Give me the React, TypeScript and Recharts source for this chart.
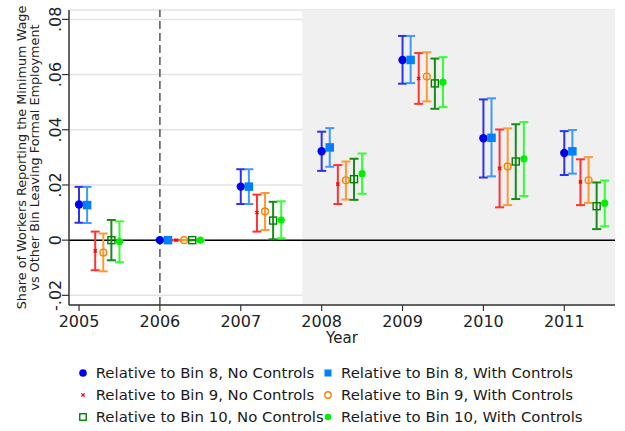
import React from 'react';
import {
  ComposedChart, Scatter, XAxis, YAxis, CartesianGrid, ReferenceLine, ReferenceArea, ErrorBar,
} from 'recharts';

const YEARS = [2005, 2006, 2007, 2008, 2009, 2010, 2011];
const X_TICKS = [2005, 2006, 2007, 2008, 2009, 2010, 2011];
const Y_TICKS = [-0.02, 0, 0.02, 0.04, 0.06, 0.08];
const Y_TICK_LABELS = ['-.02', '0', '.02', '.04', '.06', '.08'];

const B8NC_EST = [0.0129, 0, 0.0194, 0.0322, 0.0653, 0.0369, 0.0316];
const B8NC_LO = [0.0063, 0, 0.0131, 0.0251, 0.0567, 0.0227, 0.0236];
const B8NC_HI = [0.0193, 0, 0.0257, 0.0393, 0.074, 0.051, 0.0395];

const B8WC_EST = [0.0127, 0, 0.0194, 0.0336, 0.0653, 0.0371, 0.0322];
const B8WC_LO = [0.0062, 0, 0.0131, 0.0266, 0.0569, 0.0231, 0.0241];
const B8WC_HI = [0.0193, 0, 0.0257, 0.0406, 0.074, 0.0514, 0.0399];

const B9NC_EST = [-0.0039, 0, 0.01, 0.0203, 0.0586, 0.026, 0.0211];
const B9NC_LO = [-0.0109, 0, 0.0031, 0.0131, 0.0494, 0.0119, 0.0127];
const B9NC_HI = [0.0031, 0, 0.0165, 0.0272, 0.0678, 0.0401, 0.0293];

const B9WC_EST = [-0.0045, 0, 0.0104, 0.0217, 0.0593, 0.0267, 0.0217];
const B9WC_LO = [-0.0113, 0, 0.0037, 0.0147, 0.0503, 0.0127, 0.0135];
const B9WC_HI = [0.0024, 0, 0.0171, 0.0285, 0.0681, 0.0405, 0.0301];

const B10NC_EST = [0.0, 0, 0.0071, 0.0221, 0.0568, 0.0285, 0.0123];
const B10NC_LO = [-0.0073, 0, 0.0003, 0.0146, 0.0476, 0.0149, 0.004];
const B10NC_HI = [0.0073, 0, 0.0139, 0.0295, 0.0658, 0.042, 0.0209];

const B10WC_EST = [-0.0005, 0, 0.0073, 0.0241, 0.0573, 0.0295, 0.0134];
const B10WC_LO = [-0.008, 0, 0.0007, 0.0168, 0.0482, 0.016, 0.005];
const B10WC_HI = [0.0068, 0, 0.0141, 0.0314, 0.0663, 0.0428, 0.0216];

const FONT = '"DejaVu Sans", sans-serif';
const X_DOMAIN = [2004.876, 2011.627];
const Y_DOMAIN = [-0.0235, 0.0834];
const SHADE_START = 2007.76;

type Kind = 'dot' | 'square' | 'x' | 'ring' | 'box' | 'smalldot';

const SERIES: {
  name: string; est: number[]; lo: number[]; hi: number[]; offset: number;
  color: string; barColor: string; kind: Kind;
}[] = [
  { name: 'Relative to Bin 8, No Controls', est: B8NC_EST, lo: B8NC_LO, hi: B8NC_HI, offset: 0, color: '#0000f0', barColor: '#3030f0', kind: 'dot' },
  { name: 'Relative to Bin 8, With Controls', est: B8WC_EST, lo: B8WC_LO, hi: B8WC_HI, offset: 0.1, color: '#0080ff', barColor: '#3d99ff', kind: 'square' },
  { name: 'Relative to Bin 9, No Controls', est: B9NC_EST, lo: B9NC_LO, hi: B9NC_HI, offset: 0.2, color: '#ff0000', barColor: '#ff3333', kind: 'x' },
  { name: 'Relative to Bin 9, With Controls', est: B9WC_EST, lo: B9WC_LO, hi: B9WC_HI, offset: 0.3, color: '#ff8000', barColor: '#ff9933', kind: 'ring' },
  { name: 'Relative to Bin 10, No Controls', est: B10NC_EST, lo: B10NC_LO, hi: B10NC_HI, offset: 0.4, color: '#008000', barColor: '#1a8a1a', kind: 'box' },
  { name: 'Relative to Bin 10, With Controls', est: B10WC_EST, lo: B10WC_LO, hi: B10WC_HI, offset: 0.5, color: '#00ee00', barColor: '#33ff33', kind: 'smalldot' },
];

function Marker({ kind, color, cx, cy, legend }: { kind: Kind; color: string; cx: number; cy: number; legend?: boolean }) {
  if (kind === 'dot') return <circle cx={cx} cy={cy} r={legend ? 3.8 : 4.2} fill={color} />;
  if (kind === 'square') {
    const s = legend ? 7 : 8.5;
    return <rect x={cx - s / 2} y={cy - s / 2} width={s} height={s} fill={color} />;
  }
  if (kind === 'x') {
    const d = 1.6;
    return (
      <g stroke={color} strokeWidth={1.3}>
        <line x1={cx - d} y1={cy - d} x2={cx + d} y2={cy + d} />
        <line x1={cx - d} y1={cy + d} x2={cx + d} y2={cy - d} />
      </g>
    );
  }
  if (kind === 'ring') return <circle cx={cx} cy={cy} r={legend ? 3.2 : 3.4} fill="none" stroke={color} strokeWidth={1.4} />;
  if (kind === 'box') {
    const s = legend ? 6.5 : 7;
    return <rect x={cx - s / 2} y={cy - s / 2} width={s} height={s} fill="none" stroke={color} strokeWidth={1.4} />;
  }
  return <circle cx={cx} cy={cy} r={legend ? 3.3 : 3.6} fill={color} />;
}

const YTick = (props: any) => {
  const { x, y, payload } = props;
  const idx = Y_TICKS.indexOf(payload.value);
  const label = idx >= 0 ? Y_TICK_LABELS[idx] : String(payload.value);
  const bx = x + 1;
  return (
    <text x={bx} y={y} transform={`rotate(-90, ${bx}, ${y})`} textAnchor="middle" fontFamily={FONT} fontSize={16} fill="#222">
      {label}
    </text>
  );
};

const XTick = (props: any) => {
  const { x, y, payload } = props;
  return (
    <text x={x} y={y} dy={14} textAnchor="middle" fontFamily={FONT} fontSize={16} fill="#222">
      {payload.value}
    </text>
  );
};

const YLabel = (props: any) => {
  const vb = props.viewBox || { x: 0, y: 10, width: 69, height: 295 };
  const cy = vb.y + vb.height / 2;
  return (
    <g fontFamily={FONT} fontSize={12.8} fill="#222">
      <text x={26} y={cy} transform={`rotate(-90, 26, ${cy})`} textAnchor="middle">
        Share of Workers Reporting the Minimum Wage
      </text>
      <text x={39} y={cy} transform={`rotate(-90, 39, ${cy})`} textAnchor="middle">
        vs Other Bin Leaving Formal Employment
      </text>
    </g>
  );
};

const XLabel = (props: any) => {
  const vb = props.viewBox || { x: 69, y: 305, width: 546, height: 126 };
  return (
    <text x={vb.x + vb.width / 2} y={vb.y + 38} textAnchor="middle" fontFamily={FONT} fontSize={15} fill="#222">
      Year
    </text>
  );
};

const seriesData = SERIES.map((s) =>
  YEARS.map((yr, i) => ({
    x: yr + s.offset,
    y: s.est[i],
    err: [s.est[i] - s.lo[i], s.hi[i] - s.est[i]],
  }))
);

const LEGEND_ROWS = [
  [0, 1],
  [2, 3],
  [4, 5],
];

export default function App() {
  return (
    <div style={{ position: 'absolute', left: 0, top: 0, width: 625, height: 431, background: '#fff' }}>
      <ComposedChart width={625} height={431} margin={{ top: 10, right: 10, left: 0, bottom: 0 }}>
        <CartesianGrid horizontal vertical={false} stroke="#e3e3e3" strokeWidth={1.5} />
        <ReferenceArea x1={SHADE_START} x2={X_DOMAIN[1]} y1={Y_DOMAIN[0]} y2={Y_DOMAIN[1]} fill="#f0f0f0" fillOpacity={1} stroke="none" ifOverflow="hidden" />
        <XAxis
          type="number"
          dataKey="x"
          domain={X_DOMAIN}
          ticks={X_TICKS}
          allowDataOverflow
          height={126}
          tickSize={6}
          tick={<XTick />}
          axisLine={{ stroke: '#333', strokeWidth: 1.5 }}
          tickLine={{ stroke: '#333', strokeWidth: 1.2 }}
          label={<XLabel />}
        />
        <YAxis
          type="number"
          dataKey="y"
          domain={Y_DOMAIN}
          ticks={Y_TICKS}
          allowDataOverflow
          width={69}
          tickSize={7}
          tick={<YTick />}
          axisLine={{ stroke: '#333', strokeWidth: 1.5 }}
          tickLine={{ stroke: '#333', strokeWidth: 1.2 }}
          label={<YLabel />}
        />
        <ReferenceLine x={2006} stroke="#555" strokeWidth={1.5} strokeDasharray="8 4" />
        <ReferenceLine y={0} stroke="#000" strokeWidth={1.5} />
        {SERIES.map((s, k) => (
          <Scatter
            key={s.name}
            name={s.name}
            data={seriesData[k]}
            isAnimationActive={false}
            shape={(p: any) => <Marker kind={s.kind} color={s.color} cx={p.cx} cy={p.cy} />}
          >
            <ErrorBar dataKey="err" direction="y" width={4.5} stroke={s.barColor} strokeWidth={2} isAnimationActive={false} />
          </Scatter>
        ))}
      </ComposedChart>
      <div style={{ position: 'absolute', left: 0, top: 362, width: 625, fontFamily: FONT, fontSize: 14.9, color: '#1a1a1a' }}>
        {LEGEND_ROWS.map((row, r) => (
          <div key={r} style={{ position: 'relative', height: 22 }}>
            {row.map((si, c) => {
              const s = SERIES[si];
              const mx = c === 0 ? 82.7 : 328;
              const tx = c === 0 ? 95.7 : 341;
              return (
                <React.Fragment key={si}>
                  <svg width={14} height={14} style={{ position: 'absolute', left: mx - 7, top: 4 }}>
                    <Marker kind={s.kind} color={s.color} cx={7} cy={7} legend />
                  </svg>
                  <span style={{ position: 'absolute', left: tx, top: 0, lineHeight: '22px', whiteSpace: 'nowrap' }}>{s.name}</span>
                </React.Fragment>
              );
            })}
          </div>
        ))}
      </div>
    </div>
  );
}
